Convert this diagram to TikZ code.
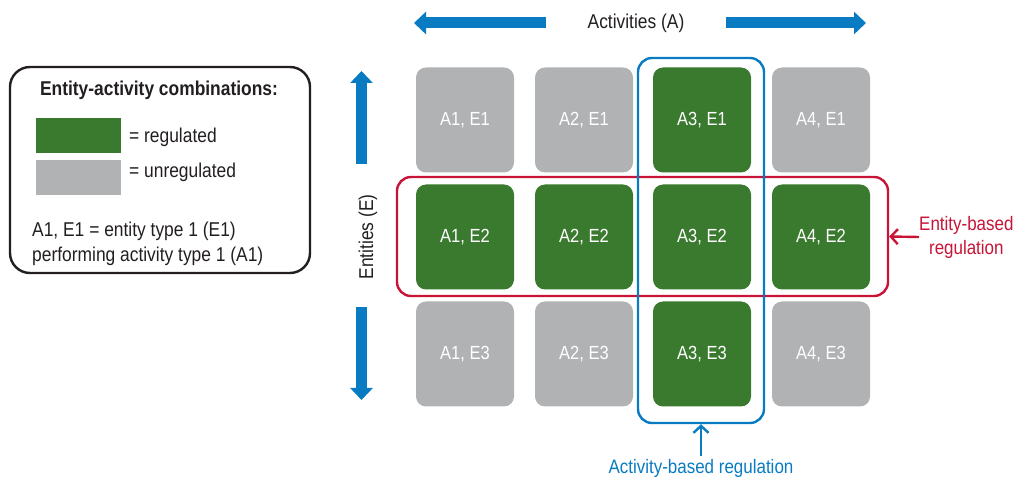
\documentclass[tikz,border=0pt]{standalone}
\usepackage{fontspec}
\setmainfont{Liberation Sans}[FakeStretch=0.87]
\usetikzlibrary{arrows.meta,fit,calc}
\definecolor{regg}{RGB}{58,122,46}
\definecolor{ungray}{RGB}{177,178,180}
\definecolor{axblue}{RGB}{8,123,194}
\definecolor{entred}{RGB}{200,20,55}
\definecolor{txt}{RGB}{35,31,32}
\begin{document}
\begin{tikzpicture}[x=1pt,y=-1pt,
  tile/.style={rounded corners=10pt,minimum width=98pt,minimum height=105pt,inner sep=0pt,text=white,font=\fontsize{19}{21}\selectfont},
  reg/.style={tile,fill=regg},
  unreg/.style={tile,fill=ungray},
  bigarrow/.style={axblue,line width=11pt,-{Triangle[length=12pt,width=22pt]}},
  lbl/.style={text=txt,font=\fontsize{20}{26}\selectfont,inner sep=0pt},
  callout/.style={line width=2.4pt,-{Straight Barb[length=7pt,width=15pt]}}]
\useasboundingbox (0,0) rectangle (1021,478);
% tiles
\node[unreg] (a1e1) at (465,120) {A1, E1};
\node[unreg] (a2e1) at (584,120) {A2, E1};
\node[reg]   (a3e1) at (702,120) {A3, E1};
\node[unreg] (a4e1) at (821,120) {A4, E1};
\node[reg]   (a1e2) at (465,237) {A1, E2};
\node[reg]   (a2e2) at (584,237) {A2, E2};
\node[reg]   (a3e2) at (702,237) {A3, E2};
\node[reg]   (a4e2) at (821,237) {A4, E2};
\node[unreg] (a1e3) at (465,354) {A1, E3};
\node[unreg] (a2e3) at (584,354) {A2, E3};
\node[reg]   (a3e3) at (702,354) {A3, E3};
\node[unreg] (a4e3) at (821,354) {A4, E3};
% regulation frames
\coordinate (rtl) at (397,177);
\coordinate (rbr) at (888,296);
\node[draw=entred,line width=2.4pt,rounded corners=14pt,inner sep=0pt,fit=(rtl)(rbr)] (ebox) {};
\coordinate (btl) at (638,58);
\coordinate (bbr) at (764,423);
\node[draw=axblue,line width=2.4pt,rounded corners=14pt,inner sep=0pt,fit=(btl)(bbr)] (abox) {};
% axis labels and arrows
\node[lbl] (acts) at (636,23) {Activities (A)};
\coordinate (la0) at (546,23);
\coordinate (la1) at (414,23);
\coordinate (ra0) at (726,23);
\coordinate (ra1) at (866,23);
\draw[bigarrow] (la0) -- (la1);
\draw[bigarrow] (ra0) -- (ra1);
\node[lbl,rotate=90,anchor=base] (ents) at (373,237) {Entities (E)};
\coordinate (ua0) at (361.5,164);
\coordinate (ua1) at (361.5,71);
\coordinate (da0) at (361.5,307);
\coordinate (da1) at (361.5,400);
\draw[bigarrow] (ua0) -- (ua1);
\draw[bigarrow] (da0) -- (da1);
% callouts
\node[text=entred,font=\fontsize{19.5}{24}\selectfont,align=center,inner sep=0pt,anchor=west] (elab) at (919,237) {Entity-based\\regulation};
\draw[callout,entred] (elab.west) -- (ebox.east);
\node[text=axblue,font=\fontsize{19.5}{24}\selectfont,inner sep=0pt,anchor=base] (alab) at (701,474) {Activity-based regulation};
\coordinate (aarr) at (701,456);
\draw[callout,axblue] (aarr) -- (abox.south);
% legend
\coordinate (ltl) at (10,67);
\coordinate (lbr) at (310,273);
\node[draw=txt,line width=2.4pt,rounded corners=20pt,inner sep=0pt,fit=(ltl)(lbr)] (legend) {};
\node[lbl,anchor=base,font=\bfseries\fontsize{20}{26}\selectfont] (ltitle) at (159,96) {Entity-activity combinations:};
\node[fill=regg,minimum width=85pt,minimum height=35pt,inner sep=0pt,anchor=north west] (sw1) at (36,118) {};
\node[fill=ungray,minimum width=85pt,minimum height=35pt,inner sep=0pt,anchor=north west] (sw2) at (36,160) {};
\node[lbl,anchor=base west] (t1) at (129,142.5) {= regulated};
\node[lbl,anchor=base west] (t2) at (129,178) {= unregulated};
\node[lbl,anchor=base west] (t3) at (32,236.5) {A1, E1 = entity type 1 (E1)};
\node[lbl,anchor=base west] (t4) at (32,262) {performing activity type 1 (A1)};
\end{tikzpicture}
\end{document}
